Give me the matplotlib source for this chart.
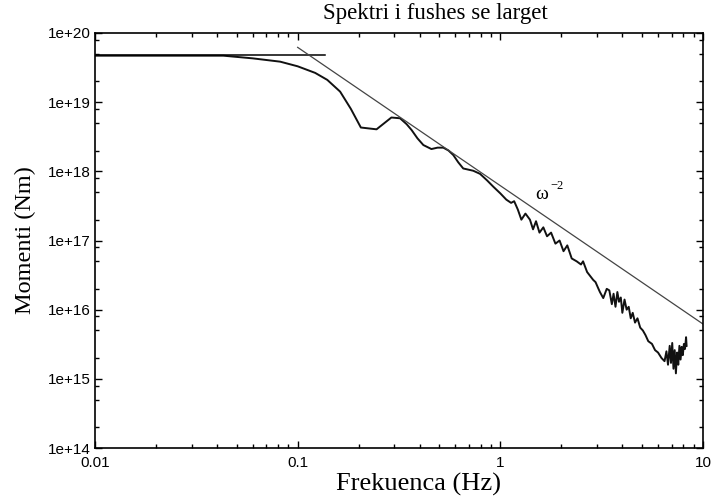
# Moment spectrum of the far field, log-log, with omega^-2 reference line

import numpy as np
import matplotlib
matplotlib.use('Agg')
import matplotlib.pyplot as plt
from matplotlib.ticker import LogLocator, FuncFormatter, NullFormatter

# spectrum
freq = [0.01, 0.02, 0.043, 0.06, 0.082, 0.1, 0.122, 0.14, 0.162, 0.183,
        0.205, 0.245, 0.29, 0.32, 0.345, 0.365, 0.39, 0.417, 0.457, 0.49,
        0.523, 0.555, 0.586, 0.62, 0.656, 0.735, 0.794, 0.86, 0.923, 1.0,
        1.07, 1.13, 1.17, 1.22, 1.27, 1.33, 1.4, 1.45, 1.5, 1.56,
        1.63, 1.7, 1.78, 1.87, 1.96, 2.05, 2.14, 2.25, 2.38, 2.5,
        2.56, 2.68, 2.87, 2.95, 3.05, 3.1, 3.22, 3.35, 3.45, 3.55,
        3.62, 3.7, 3.78, 3.85, 3.93, 4.0, 4.1, 4.2, 4.3, 4.4,
        4.5, 4.62, 4.75, 4.9, 5.05, 5.2, 5.37, 5.6, 5.8, 6.0,
        6.24, 6.46, 6.6, 6.72, 6.85, 6.95, 7.05, 7.15, 7.25, 7.35,
        7.45, 7.55, 7.65, 7.75, 7.85, 7.95, 8.05, 8.15, 8.25, 8.3]
moment = [4.7e19, 4.7e19, 4.7e19, 4.3e19, 3.85e19, 3.3e19, 2.65e19, 2.1e19, 1.42e19, 8.0e18,
          4.3e18, 4.05e18, 6.0e18, 5.85e18, 4.8e18, 3.95e18, 3.0e18, 2.4e18, 2.1e18, 2.2e18,
          2.2e18, 2.0e18, 1.72e18, 1.35e18, 1.1e18, 1.02e18, 9.2e17, 7.4e17, 6.0e17, 4.8e17,
          3.9e17, 3.5e17, 3.7e17, 2.8e17, 2.0e17, 2.45e17, 2.0e17, 1.45e17, 1.9e17, 1.3e17,
          1.55e17, 1.15e17, 1.3e17, 9.0e16, 1.0e17, 7.0e16, 8.5e16, 5.5e16, 5.0e16, 4.5e16,
          5.0e16, 3.5e16, 2.7e16, 2.5e16, 2.0e16, 1.8e16, 1.47e16, 2.0e16, 1.9e16, 1.2e16,
          1.7e16, 1.1e16, 1.8e16, 1.3e16, 1.5e16, 9.0e15, 1.4e16, 1.0e16, 1.1e16, 7.5e15,
          9.0e15, 6.5e15, 7.5e15, 5.5e15, 5.0e15, 4.3e15, 3.5e15, 3.2e15, 2.6e15, 2.4e15,
          2.0e15, 1.8e15, 2.5e15, 1.6e15, 3.0e15, 1.7e15, 3.3e15, 1.4e15, 2.6e15, 1.2e15,
          2.4e15, 1.6e15, 3.0e15, 1.9e15, 2.9e15, 2.2e15, 3.2e15, 2.7e15, 4.0e15, 3.0e15]

# low-frequency plateau
plateau_f = [0.01, 0.136]
plateau_m = [4.8e19, 4.8e19]

# omega^-2 line
slope_f = [0.1, 10]
slope_m = [6.2e19, 6.2e15]

fig = plt.figure(figsize=(7.12, 4.98), dpi=100)
ax = fig.add_axes([95/712, 1-448/498, 608/712, 415/498])

ax.plot(freq, moment, color='#111111', lw=1.4)
ax.plot(plateau_f, plateau_m, color='black', lw=1.1)
ax.plot(slope_f, slope_m, color='#444444', lw=0.9)

ax.set_xscale('log')
ax.set_yscale('log')
ax.set_xlim(0.01, 10)
ax.set_ylim(1e14, 1e20)

# upright omega with a small superscript, as in the original
ax.text(1.48, 4.6e17, 'ω', family='Liberation Serif', fontsize=14, va='center', ha='left')
ax.annotate('−2', xy=(1.48, 4.6e17), xytext=(11, 6), textcoords='offset points',
            family='Liberation Serif', fontsize=9, va='center', ha='left')

ax.xaxis.set_major_locator(LogLocator(base=10, numticks=10))
ax.xaxis.set_minor_locator(LogLocator(base=10, subs=np.arange(2, 10), numticks=20))
ax.yaxis.set_major_locator(LogLocator(base=10, numticks=10))
ax.yaxis.set_minor_locator(LogLocator(base=10, subs=[2, 5, 8], numticks=20))
ax.xaxis.set_major_formatter(FuncFormatter(lambda v, p: f'{v:g}'))
ax.yaxis.set_major_formatter(FuncFormatter(lambda v, p: f'1e+{int(round(np.log10(v)))}'))
ax.xaxis.set_minor_formatter(NullFormatter())
ax.yaxis.set_minor_formatter(NullFormatter())

ax.tick_params(which='both', direction='in', top=True, right=True, width=1.0)
ax.tick_params(which='major', length=5, labelsize=11, pad=3)
ax.tick_params(axis='x', which='major', pad=6)
ax.tick_params(which='minor', length=3)
for lab in ax.get_xticklabels() + ax.get_yticklabels():
    lab.set_family('Liberation Sans')
for s in ax.spines.values():
    s.set_linewidth(1.2)

fig.text(435/712, 1-13/498, 'Spektri i fushes se larget', family='Liberation Serif',
         fontsize=16.5, ha='center', va='center')
fig.text(418/712, 1-484/498, 'Frekuenca (Hz)', family='Liberation Serif',
         fontsize=19, ha='center', va='center')
fig.text(25/712, 1-240/498, 'Momenti (Nm)', family='Liberation Serif',
         fontsize=17.5, ha='center', va='center', rotation=90)

fig.savefig('out.png', dpi=100)
